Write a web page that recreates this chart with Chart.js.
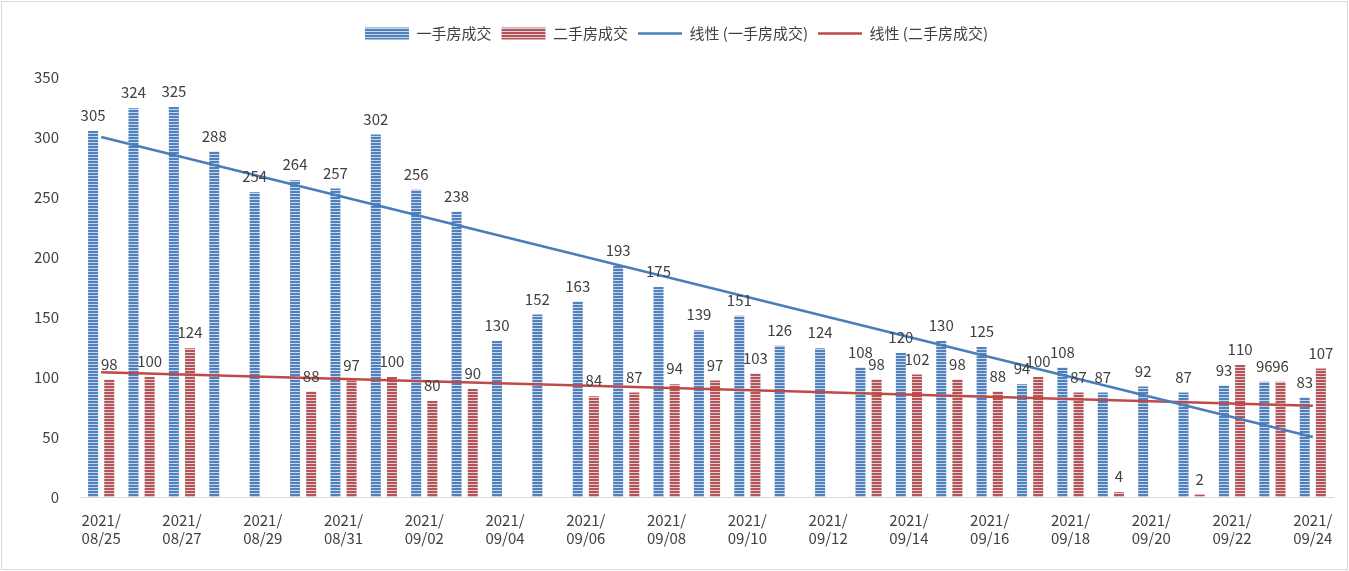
<!DOCTYPE html>
<html>
<head>
<meta charset="utf-8">
<script src="https://cdn.jsdelivr.net/npm/chart.js@4"></script>
<style>
  body { margin: 0; background: #fff; }
  #wrap { position: absolute; left: 1px; top: 1px; width: 1345px; height: 567px; border: 1px solid #d9d9d9; }
</style>
</head>
<body>
<div id="wrap"><canvas id="c"></canvas></div>
<script>
// ===== Data =====
const dates = ['08/25','08/26','08/27','08/28','08/29','08/30','08/31','09/01','09/02','09/03','09/04','09/05','09/06','09/07','09/08','09/09','09/10','09/11','09/12','09/13','09/14','09/15','09/16','09/17','09/18','09/19','09/20','09/21','09/22','09/23','09/24'];
const newHomes = [305,324,325,288,254,264,257,302,256,238,130,152,163,193,175,139,151,126,124,108,120,130,125,94,108,87,92,87,93,96,83];
const resale = [98,100,124,null,null,88,97,100,80,90,null,null,84,87,94,97,103,null,null,98,102,98,88,100,87,4,null,2,110,96,107];
// trend lines (start / end only)
const trendNew = [300].concat(Array(29).fill(null), [50]);
const trendResale = [104].concat(Array(29).fill(null), [76]);

// ===== Striped bar fill =====
function stripes(color) {
    const p = document.createElement('canvas');
    p.width = 4; p.height = 3;
    const g = p.getContext('2d');
    g.fillStyle = '#c9d6ea'; g.fillRect(0, 0, 4, 3);
    g.fillStyle = color; g.fillRect(0, 0, 4, 2);
    return g.createPattern(p, 'repeat');
}

// ===== Value labels above bars =====
const barLabels = {
    id: 'barLabels',
    afterDatasetsDraw(chart) {
        const ctx = chart.ctx;
        ctx.save();
        ctx.font = '15px "Microsoft YaHei", "Noto Sans CJK SC", sans-serif';
        ctx.fillStyle = '#404040';
        ctx.textAlign = 'center';
        ctx.textBaseline = 'bottom';
        [0, 1].forEach(di => {
            chart.getDatasetMeta(di).data.forEach((el, i) => {
                const v = chart.data.datasets[di].data[i];
                if (v == null) return;
                ctx.fillText(v, el.x, el.y - 8);
            });
        });
        ctx.restore();
    }
};

// extra room under the legend
const legendGap = {
    id: 'legendGap',
    beforeInit(chart) {
        const fit = chart.legend.fit;
        chart.legend.fit = function() { fit.bind(chart.legend)(); this.height += 26; };
    }
};

const font = { family: '"Microsoft YaHei", "Noto Sans CJK SC", sans-serif', size: 15 };
Chart.defaults.color = '#404040';

new Chart(document.getElementById('c'), {
    type: 'bar',
    data: {
        labels: dates.map(d => ['2021/', d]),
        datasets: [
            { label: '一手房成交', data: newHomes, backgroundColor: stripes('#4f81bd'), categoryPercentage: 0.8, barPercentage: 0.62, order: 2 },
            { label: '二手房成交', data: resale, backgroundColor: stripes('#c0504d'), categoryPercentage: 0.8, barPercentage: 0.62, order: 2 },
            { type: 'line', label: '线性 (一手房成交)', data: trendNew, borderColor: '#4a7ebb', backgroundColor: '#4a7ebb', borderWidth: 2.5, pointRadius: 0, spanGaps: true, order: 1 },
            { type: 'line', label: '线性 (二手房成交)', data: trendResale, borderColor: '#be4b48', backgroundColor: '#be4b48', borderWidth: 2.5, pointRadius: 0, spanGaps: true, order: 1 }
        ]
    },
    options: {
        responsive: true,
        maintainAspectRatio: false,
        animation: false,
        layout: { padding: { left: 18, right: 14, top: 14, bottom: 16 } },
        plugins: {
            legend: {
                position: 'top',
                labels: {
                    font, usePointStyle: true, pointStyleWidth: 44, boxHeight: 12, padding: 10,
                    generateLabels: chart => chart.data.datasets.map((ds, i) => ({
                        text: ds.label,
                        fillStyle: ds.type === 'line' ? ds.borderColor : ds.backgroundColor,
                        strokeStyle: ds.type === 'line' ? ds.borderColor : 'transparent',
                        lineWidth: ds.type === 'line' ? 2.5 : 0,
                        pointStyle: ds.type === 'line' ? 'line' : 'rect',
                        datasetIndex: i,
                        fontColor: '#404040'
                    }))
                }
            },
            tooltip: { enabled: false }
        },
        scales: {
            x: {
                grid: { display: false },
                border: { color: '#d9d9d9' },
                ticks: {
                    font, autoSkip: false, maxRotation: 0, padding: 6,
                    callback: function(v, i) { return i % 2 === 0 ? this.getLabelForValue(v) : ''; }
                }
            },
            y: {
                min: 0, max: 350,
                grid: { display: false },
                border: { display: false },
                ticks: { font, stepSize: 50, padding: 14 }
            }
        }
    },
    plugins: [barLabels, legendGap]
});
</script>
</body>
</html>
